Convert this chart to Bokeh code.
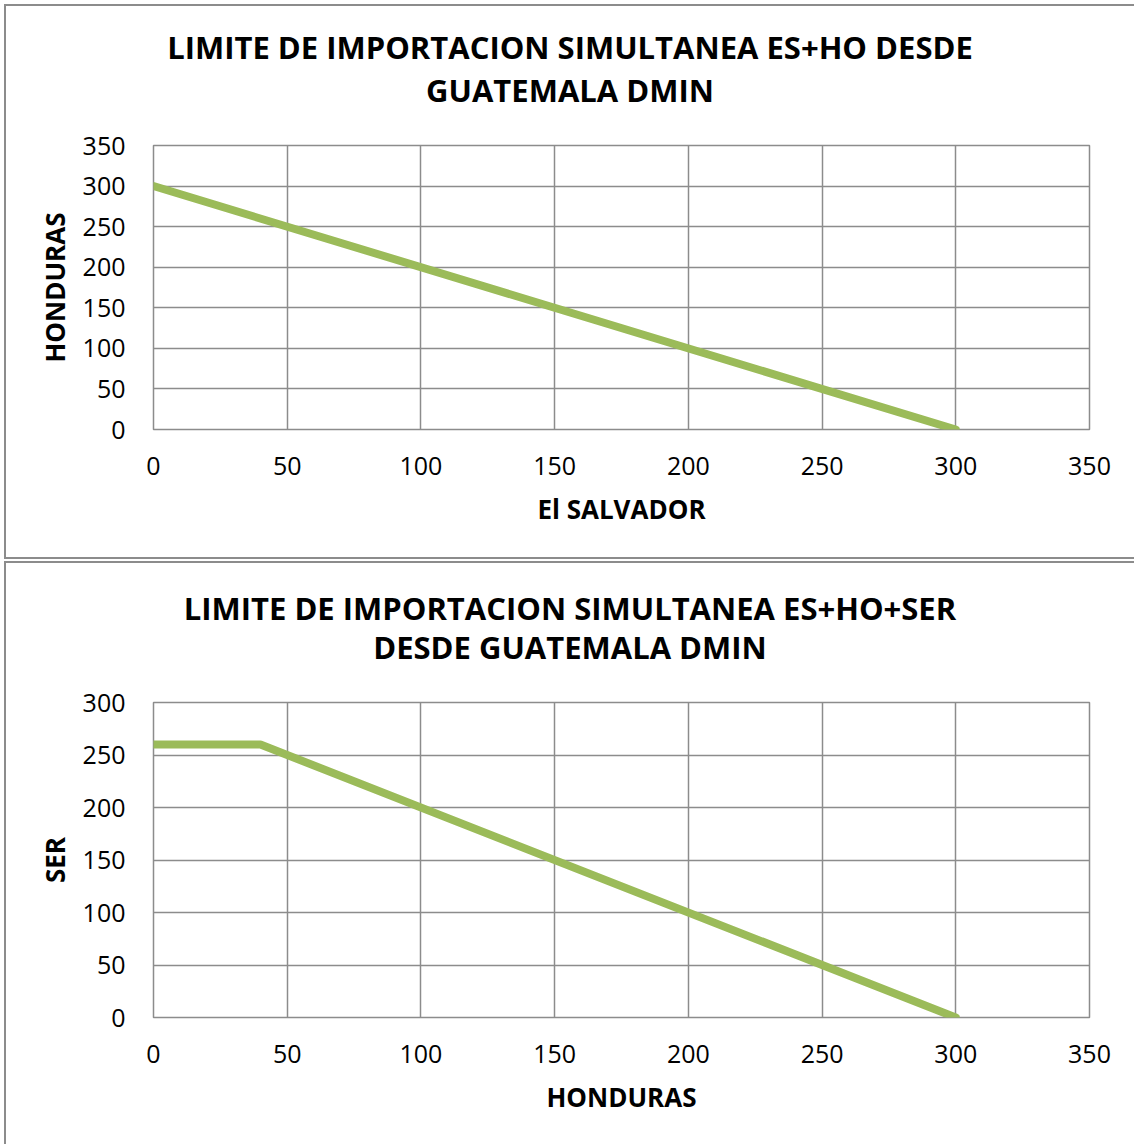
from bokeh.plotting import figure
from bokeh.layouts import column
from bokeh.models import Div, Range1d, FixedTicker
from bokeh.embed import file_html
from bokeh.resources import INLINE

# ---- data ----
ticks = [0, 50, 100, 150, 200, 250, 300, 350]

top_title = ["LIMITE DE IMPORTACION SIMULTANEA ES+HO DESDE", "GUATEMALA DMIN"]
top_xlabel = "El SALVADOR"
top_ylabel = "HONDURAS"
top_x = [0, 300]
top_y = [300, 0]
top_ymax = 350

bot_title = ["LIMITE DE IMPORTACION SIMULTANEA ES+HO+SER", "DESDE GUATEMALA DMIN"]
bot_xlabel = "HONDURAS"
bot_ylabel = "SER"
bot_x = [0, 40, 300]
bot_y = [260, 260, 0]
bot_ymax = 300

GRID = "#8c8c8c"
GREEN = "#9bbb59"
FONT = "Open Sans"
B = "2px solid " + GRID


def title_div(lines, pad_top, line_h, top_margin):
    html = ("<div style=\"font-family:'Open Sans';font-weight:bold;font-size:31px;"
            "line-height:%dpx;color:black;text-align:center;padding-left:18px;"
            "width:1110px;display:block;margin:0;white-space:nowrap;\">%s</div>"
            ) % (line_h, "<br>".join(lines))
    return Div(text=html, width=1130, height=100, margin=(top_margin, 0, 0, 4),
               styles={"border-left": B, "border-top": B, "padding-top": "%dpx" % pad_top,
                       "box-sizing": "border-box", "overflow": "visible"})


def make(xlabel, ylabel, xs, ys, ymax, height, bbottom, styles):
    p = figure(width=1130, height=height, output_backend="svg", toolbar_location=None,
               x_range=Range1d(0, 350), y_range=Range1d(0, ymax),
               min_border_left=147, min_border_right=47,
               min_border_top=41, min_border_bottom=bbottom)
    p.margin = (0, 0, 0, 4)
    p.styles = styles
    p.xaxis.ticker = FixedTicker(ticks=ticks)
    p.yaxis.ticker = FixedTicker(ticks=[t for t in ticks if t <= ymax])
    for ax in (p.xaxis[0], p.yaxis[0]):
        ax.axis_line_color = None
        ax.major_tick_line_color = None
        ax.minor_tick_line_color = None
        ax.major_label_text_font = FONT
        ax.major_label_text_font_size = "25px"
        ax.major_label_text_color = "black"
        ax.axis_label_text_font = FONT
        ax.axis_label_text_font_size = "26px"
        ax.axis_label_text_font_style = "bold"
        ax.axis_label_text_color = "black"
    p.xaxis.axis_label = xlabel
    p.yaxis.axis_label = ylabel
    p.xaxis.major_label_standoff = 21
    p.yaxis.major_label_standoff = 22
    p.xaxis.axis_label_standoff = 13
    p.yaxis.axis_label_standoff = 7
    p.grid.grid_line_color = GRID
    p.grid.grid_line_width = 1.5
    p.outline_line_color = GRID
    p.outline_line_width = 1.5
    p.line(xs, ys, line_color=GREEN, line_width=8, line_cap="round", line_join="round")
    return p


d1 = title_div(top_title, 20, 43, 4)
p1 = make(top_xlabel, top_ylabel, top_x, top_y, top_ymax, 455, 130,
          {"border-left": B, "border-bottom": B})
d2 = title_div(bot_title, 26, 39, 0)
p2 = make(bot_xlabel, bot_ylabel, bot_x, bot_y, bot_ymax, 483, 127,
          {"border-left": B})

layout = column(column(d1, p1, spacing=0), column(d2, p2, spacing=0), spacing=2)
open("out.html", "w").write(file_html(layout, INLINE))
